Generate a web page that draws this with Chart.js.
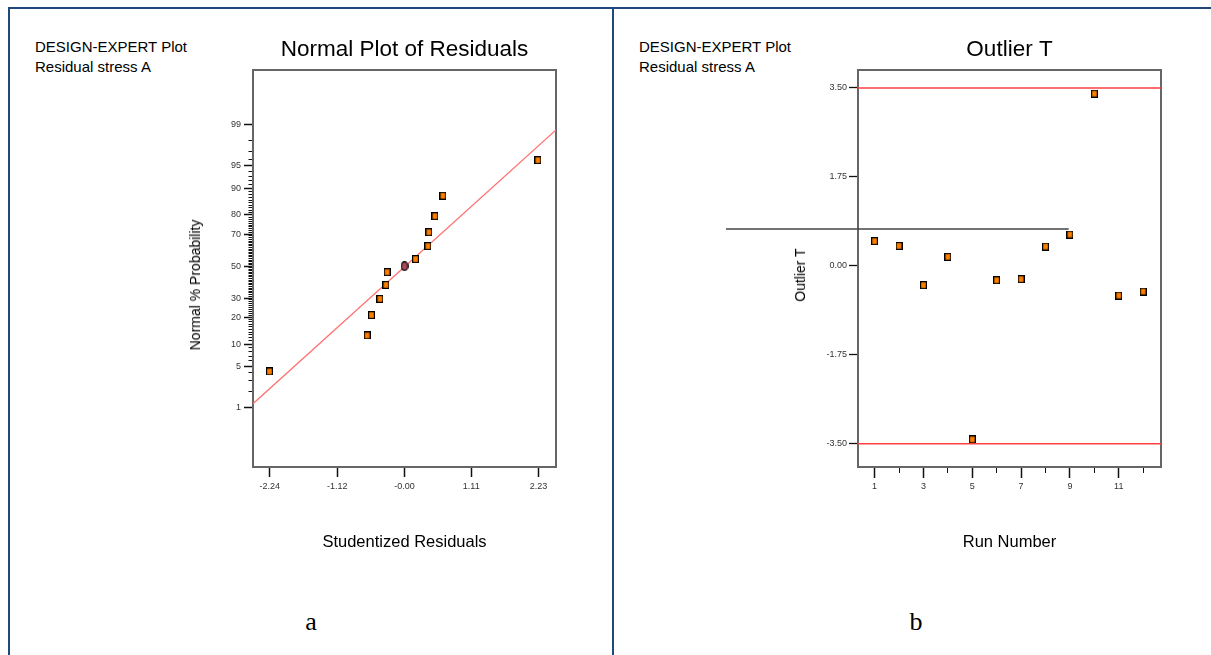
<!doctype html>
<html lang="en">
<head>
  <meta charset="utf-8">
  <title>Normal Plot of Residuals / Outlier T</title>
  <script src="https://cdn.jsdelivr.net/npm/chart.js"></script>
  <style>
    body { margin: 0; width: 1211px; height: 655px; overflow: hidden; background: #fff; position: relative;
           font-family: "Liberation Sans", Arial, sans-serif; color: #000; }
    .rule { position: absolute; background: #1f497d; }
    .note { position: absolute; font-size: 15px; line-height: 20px; white-space: nowrap; color: #000; }
    .ytitle { position: absolute; font-size: 14px; white-space: nowrap; color: #000;
              transform: translate(-50%, -50%) rotate(-90deg); }
    .panel { position: absolute; font-family: "Liberation Serif", "Times New Roman", serif; font-size: 26px;
             transform: translate(-50%, -50%); }
    canvas { position: absolute; top: 0; }
  </style>
</head>
<body>

<div class="rule" style="left:8px; top:7px; width:1203px; height:2px;"></div>
<div class="rule" style="left:8px; top:7px; width:2px; height:648px;"></div>
<div class="rule" style="left:612px; top:7px; width:2px; height:648px;"></div>

<div class="note" style="left:35px; top:37px;">DESIGN-EXPERT Plot<br>Residual stress A</div>
<div class="note" style="left:639px; top:37px;">DESIGN-EXPERT Plot<br>Residual stress A</div>

<canvas id="normalPlot" width="467" height="580" style="left:171px;"></canvas>
<canvas id="outlierPlot" width="589" height="580" style="left:715px;"></canvas>

<div class="ytitle" style="left:195px; top:285px;">Normal % Probability</div>
<div class="ytitle" style="left:800px; top:275px;">Outlier T</div>

<div class="panel" style="left:311px; top:622px;">a</div>
<div class="panel" style="left:916px; top:622px;">b</div>

<script>
  // --- normal plot of residuals ---
  const residuals = [-2.246, -0.621, -0.549, -0.409, -0.309, -0.288, 0.183, 0.389, 0.406, 0.506, 0.639, 2.219];
  const normalPct = [4.2, 12.8, 21.1, 29.6, 37.9, 46.1, 54.6, 62.9, 71.1, 79.4, 87.6, 95.9];
  const centerResidual = [0];
  const centerPct = [50];
  const fitResidual = [-2.52, 2.52];
  const fitPct = [1.2, 98.73];
  const residTicks = [-2.24, -1.12, 0, 1.11, 2.23];
  const residTickLabels = ['-2.24', '-1.12', '-0.00', '1.11', '2.23'];
  const pctMajor = [1, 5, 10, 20, 30, 50, 70, 80, 90, 95, 99];
  const pctMinor = Array.from({length: 99}, (_, i) => i + 1);

  // --- outlier T ---
  const runNumber = [1, 2, 3, 4, 5, 6, 7, 8, 9, 10, 11, 12];
  const outlierT = [0.486, 0.393, -0.380, 0.177, -3.415, -0.282, -0.262, 0.380, 0.616, 3.388, -0.584, -0.505];
  const limitT = 3.50;
  const tTicks = [-3.5, -1.75, 0, 1.75, 3.5];
  const refLineRun = [-5.09, 8.95];
  const refLineT = 0.727;

  // inverse normal cdf (Acklam), p in (0,1)
  function probit(p) {
    const a = [-3.969683028665376e+01, 2.209460984245205e+02, -2.759285104469687e+02, 1.383577518672690e+02, -3.066479806614716e+01, 2.506628277459239e+00];
    const b = [-5.447609879822406e+01, 1.615858368580409e+02, -1.556989798598866e+02, 6.680131188771972e+01, -1.328068155288572e+01];
    const c = [-7.784894002430293e-03, -3.223964580411365e-01, -2.400758277161838e+00, -2.549732539343734e+00, 4.374664141464968e+00, 2.938163982698783e+00];
    const d = [7.784695709041462e-03, 3.224671290700398e-01, 2.445134137142996e+00, 3.754408661907416e+00];
    const lo = 0.02425;
    let q, r;
    if (p < lo) {
      q = Math.sqrt(-2 * Math.log(p));
      return (((((c[0]*q+c[1])*q+c[2])*q+c[3])*q+c[4])*q+c[5]) / ((((d[0]*q+d[1])*q+d[2])*q+d[3])*q+1);
    }
    if (p > 1 - lo) {
      q = Math.sqrt(-2 * Math.log(1 - p));
      return -(((((c[0]*q+c[1])*q+c[2])*q+c[3])*q+c[4])*q+c[5]) / ((((d[0]*q+d[1])*q+d[2])*q+d[3])*q+1);
    }
    q = p - 0.5; r = q * q;
    return (((((a[0]*r+a[1])*r+a[2])*r+a[3])*r+a[4])*r+a[5])*q / (((((b[0]*r+b[1])*r+b[2])*r+b[3])*r+b[4])*r+1);
  }

  // probability axis: values in percent, pixels linear in the normal quantile
  class ProbitScale extends Chart.LinearScale {
    getPixelForValue(value) {
      const z0 = probit(this.min / 100), z1 = probit(this.max / 100);
      return this.getPixelForDecimal((probit(value / 100) - z0) / (z1 - z0));
    }
    getValueForPixel(pixel) {
      let lo = this.min, hi = this.max;
      for (let i = 0; i < 40; i++) {
        const mid = (lo + hi) / 2;
        if ((this.getPixelForValue(mid) > pixel) !== this._reversePixels) hi = mid; else lo = mid;
      }
      return (lo + hi) / 2;
    }
  }
  ProbitScale.id = 'probit';
  ProbitScale.defaults = Chart.LinearScale.defaults;
  Chart.register(ProbitScale);

  function marker(fill, w, h, oval) {
    const c = document.createElement('canvas');
    c.width = w; c.height = h;
    const g = c.getContext('2d');
    g.fillStyle = fill; g.strokeStyle = '#000'; g.lineWidth = 1.2;
    if (oval) {
      g.beginPath();
      g.ellipse(w / 2, h / 2, w / 2 - 0.7, h / 2 - 0.7, 0, 0, Math.PI * 2);
      g.fill(); g.stroke();
    } else {
      g.fillRect(0.6, 0.6, w - 1.2, h - 1.2);
      g.strokeRect(0.6, 0.6, w - 1.2, h - 1.2);
    }
    return c;
  }
  const squareMark = marker('#ff8000', 7, 8, false);
  const ovalMark = marker('#a84c58', 8, 10, true);

  const framePlugin = {
    id: 'frame',
    beforeDatasetsDraw(chart) {
      const {ctx, chartArea: a} = chart;
      ctx.save();
      ctx.strokeStyle = '#666';
      ctx.lineWidth = 2;
      ctx.strokeRect(a.left, a.top, a.right - a.left, a.bottom - a.top);
      ctx.restore();
    }
  };

  const tickFont = {family: 'Liberation Sans', size: 9};
  const titleFont = {family: 'Liberation Sans', size: 22.5, weight: 'normal'};
  const axisTitleFont = {family: 'Liberation Sans', size: 16.5, weight: 'normal'};

  Chart.defaults.animation = false;
  Chart.defaults.events = [];
  Chart.defaults.color = '#333';

  function baseOptions(title) {
    return {
      responsive: false,
      devicePixelRatio: 1,
      layout: {padding: 0},
      plugins: {
        legend: {display: false},
        tooltip: {enabled: false},
        title: {
          display: true, text: title, color: '#000', font: titleFont,
          padding: {top: 36, bottom: 7}
        }
      }
    };
  }

  // empty right-hand axis, same width as the left one, so the title centres over the plot box
  function spacerAxis(width) {
    return {
      position: 'right',
      display: true,
      border: {display: false},
      grid: {display: false},
      ticks: {display: false},
      afterFit: s => { s.width = width; }
    };
  }

  // ---------- chart a ----------
  const optsA = baseOptions('Normal Plot of Residuals');
  optsA.scales = {
    x: {
      type: 'linear',
      min: -2.52, max: 2.52,
      border: {display: false},
      grid: {drawOnChartArea: false, tickLength: 10, tickColor: '#111', tickWidth: 1.5},
      ticks: {font: tickFont, padding: 4, autoSkip: false, maxRotation: 0,
              callback: (v, i) => residTickLabels[i]},
      afterBuildTicks: s => { s.ticks = residTicks.map(v => ({value: v})); },
      afterFit: s => { s.height = 113; },
      title: {display: true, text: 'Studentized Residuals', color: '#000', font: axisTitleFont,
              padding: {top: 0, bottom: 27.4}}
    },
    y: {
      type: 'probit',
      position: 'left',
      min: 0.0492, max: 99.9355,
      bounds: 'data',
      border: {display: false},
      grid: {
        drawOnChartArea: false, tickLength: 9, tickColor: '#111',
        tickWidth: c => pctMajor.includes(c.tick.value) ? 1.5 : 1,
        tickBorderDash: c => pctMajor.includes(c.tick.value) ? [] : [0, 4.5, 4.5, 100]
      },
      ticks: {font: tickFont, padding: 3, autoSkip: false,
              callback: v => pctMajor.includes(v) ? String(v) : ''},
      afterBuildTicks: s => { s.ticks = pctMinor.map(v => ({value: v})); },
      afterFit: s => { s.width = 82; }
    },
    yRight: spacerAxis(82)
  };

  new Chart(document.getElementById('normalPlot'), {
    type: 'scatter',
    data: {
      datasets: [
        {
          data: residuals.map((x, i) => ({x: x, y: normalPct[i]})),
          pointStyle: squareMark, pointRadius: 4
        },
        {
          data: centerResidual.map((x, i) => ({x: x, y: centerPct[i]})),
          pointStyle: ovalMark, pointRadius: 4
        },
        {
          data: fitResidual.map((x, i) => ({x: x, y: fitPct[i]})),
          showLine: true, pointRadius: 0, borderColor: '#ff7373', borderWidth: 1.3
        }
      ]
    },
    options: optsA,
    plugins: [framePlugin]
  });

  // ---------- chart b ----------
  const optsB = baseOptions('Outlier T');
  optsB.scales = {
    x: {
      type: 'linear',
      min: 0.32, max: 12.73,
      border: {display: false},
      grid: {
        drawOnChartArea: false, tickLength: 11, tickColor: '#111',
        tickWidth: c => c.tick.value % 2 ? 1.5 : 1,
        tickBorderDash: c => c.tick.value % 2 ? [] : [6, 100]
      },
      ticks: {font: tickFont, padding: 3, autoSkip: false, maxRotation: 0,
              callback: v => v % 2 ? String(v) : ''},
      afterBuildTicks: s => { s.ticks = runNumber.map(v => ({value: v})); },
      afterFit: s => { s.height = 113; },
      title: {display: true, text: 'Run Number', color: '#000', font: axisTitleFont,
              padding: {top: 0, bottom: 27.4}}
    },
    y: {
      type: 'linear',
      position: 'left',
      min: -3.958, max: 3.854,
      bounds: 'data',
      border: {display: false},
      grid: {drawOnChartArea: false, tickLength: 9, tickColor: '#111', tickWidth: 1.3},
      ticks: {font: tickFont, padding: 2, autoSkip: false, callback: v => v.toFixed(2)},
      afterBuildTicks: s => { s.ticks = tTicks.map(v => ({value: v})); },
      afterFit: s => { s.width = 143; }
    },
    yRight: spacerAxis(143)
  };

  new Chart(document.getElementById('outlierPlot'), {
    type: 'scatter',
    data: {
      datasets: [
        {
          data: runNumber.map((r, i) => ({x: r, y: outlierT[i]})),
          pointStyle: squareMark, pointRadius: 4
        },
        {
          data: [{x: 0.32, y: limitT}, {x: 12.73, y: limitT}],
          showLine: true, pointRadius: 0, borderColor: '#ff4040', borderWidth: 1.5
        },
        {
          data: [{x: 0.32, y: -limitT}, {x: 12.73, y: -limitT}],
          showLine: true, pointRadius: 0, borderColor: '#ff4040', borderWidth: 1.5
        },
        {
          data: refLineRun.map(r => ({x: r, y: refLineT})),
          showLine: true, pointRadius: 0, borderColor: '#444', borderWidth: 1.5,
          clip: false
        }
      ]
    },
    options: optsB,
    plugins: [framePlugin]
  });
</script>
</body>
</html>
